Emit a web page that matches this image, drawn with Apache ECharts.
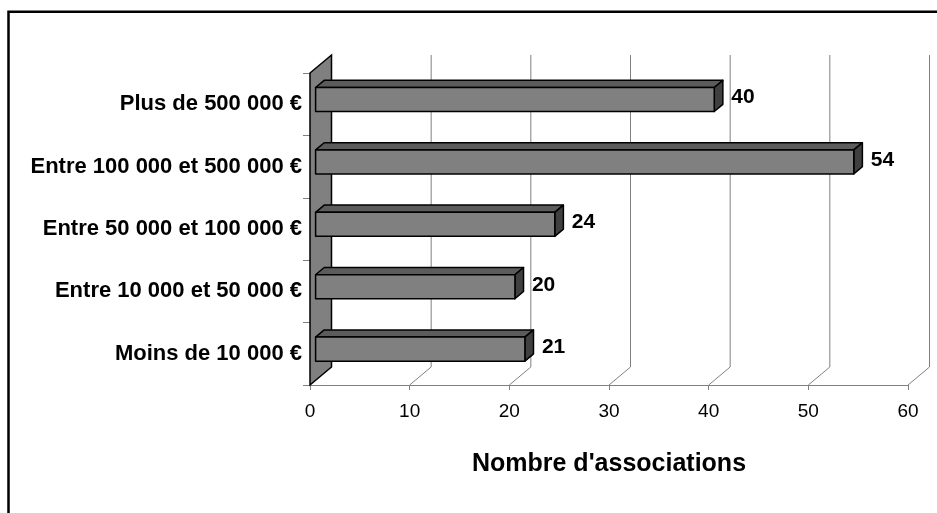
<!DOCTYPE html>
<html>
<head>
<meta charset="utf-8">
<script src="https://cdn.jsdelivr.net/npm/echarts@6/dist/echarts.min.js"></script>
<style>
  html, body { margin: 0; padding: 0; background: #fff; }
  #chart { width: 937px; height: 513px; }
</style>
</head>
<body>
<div id="chart"></div>
<script>
// données
const categories = [
  'Moins de 10 000 €',
  'Entre 10 000 et 50 000 €',
  'Entre 50 000 et 100 000 €',
  'Entre 100 000 et 500 000 €',
  'Plus de 500 000 €'
]
const values = [21, 20, 24, 54, 40]
const xTicks = [0, 10, 20, 30, 40, 50, 60]

// profondeur de l'effet 3D (en pixels)
const DX = 21.5
const DY = -18
const F0 = 0.26 // face avant des barres
const F1 = 0.66 // face arrière des barres

const chart = echarts.init(document.getElementById('chart'))

const option = {
  animation: false,
  graphic: [{
    type: 'rect',
    shape: { x: 8.5, y: 11.7, width: 2000, height: 2000 },
    style: { fill: 'none', stroke: '#000', lineWidth: 2.5 },
    silent: true
  }],
  grid: { left: 310, right: 29, top: 73, bottom: 128 },
  xAxis: {
    type: 'value',
    min: 0,
    max: 60,
    interval: 10,
    axisLine: { show: true, lineStyle: { color: '#808080', width: 1 } },
    axisTick: { show: true, length: 5, lineStyle: { color: '#808080' } },
    splitLine: { show: false },
    axisLabel: { color: '#000', fontSize: 19, fontFamily: 'Liberation Sans', margin: 17 },
    name: "Nombre d'associations",
    nameLocation: 'middle',
    nameGap: 67,
    nameTextStyle: { color: '#000', fontSize: 25, fontWeight: 'bold', fontFamily: 'Liberation Sans' }
  },
  yAxis: {
    type: 'category',
    data: categories,
    axisLine: { show: false },
    axisTick: { show: true, length: 7, lineStyle: { color: '#808080' } },
    splitLine: { show: false },
    axisLabel: {
      color: '#000', fontSize: 22, fontWeight: 'bold', fontFamily: 'Liberation Sans',
      margin: 8, padding: [0, 0, 7, 0]
    }
  },
  series: [
    {
      // sol + lignes de quadrillage du fond
      type: 'custom',
      silent: true,
      data: xTicks.map(t => [t, 0]),
      renderItem: function (params, api) {
        const cs = params.coordSys
        const x = api.coord([api.value(0), 0])[0]
        const yTop = cs.y
        const yBot = cs.y + cs.height
        return {
          type: 'group',
          children: [
            { type: 'line', shape: { x1: x, y1: yBot, x2: x + DX, y2: yBot + DY }, style: { stroke: '#808080', lineWidth: 1 } },
            { type: 'line', shape: { x1: x + DX, y1: yTop + DY, x2: x + DX, y2: yBot + DY }, style: { stroke: '#808080', lineWidth: 1 } }
          ]
        }
      }
    },
    {
      // paroi gauche
      type: 'custom',
      silent: true,
      data: [[0, 0]],
      renderItem: function (params, api) {
        const cs = params.coordSys
        const x = api.coord([0, 0])[0]
        const yTop = cs.y
        const yBot = cs.y + cs.height
        return {
          type: 'polygon',
          shape: { points: [[x, yTop], [x + DX, yTop + DY], [x + DX, yBot + DY], [x, yBot]] },
          style: { fill: '#808080', stroke: '#000', lineWidth: 1.5 }
        }
      }
    },
    {
      // barres 3D
      type: 'custom',
      data: values.map((v, i) => [v, i]),
      renderItem: function (params, api) {
        const v = api.value(0)
        const idx = api.value(1)
        const p0 = api.coord([0, idx])
        const p1 = api.coord([v, idx])
        const h = api.size([0, 1])[1] * 0.385
        const fx = DX * F0, fy = DY * F0
        const dx = DX * (F1 - F0), dy = DY * (F1 - F0)
        const x0 = p0[0] + fx
        const x1 = p1[0] + fx
        const yc = p0[1] + fy
        const yt = yc - h / 2
        const yb = yc + h / 2
        const edge = { stroke: '#000', lineWidth: 1.5, lineJoin: 'round' }
        return {
          type: 'group',
          children: [
            { type: 'polygon', shape: { points: [[x0, yt], [x1, yt], [x1 + dx, yt + dy], [x0 + dx, yt + dy]] }, style: Object.assign({ fill: '#5c5c5c' }, edge) },
            { type: 'polygon', shape: { points: [[x1, yt], [x1 + dx, yt + dy], [x1 + dx, yb + dy], [x1, yb]] }, style: Object.assign({ fill: '#404040' }, edge) },
            { type: 'rect', shape: { x: x0, y: yt, width: x1 - x0, height: h }, style: Object.assign({ fill: '#808080' }, edge) },
            {
              type: 'text',
              style: {
                text: String(v), x: x1 + 17, y: yc - 2,
                verticalAlign: 'middle', align: 'left',
                font: 'bold 21px "Liberation Sans"', fill: '#000'
              }
            }
          ]
        }
      }
    }
  ]
}

chart.setOption(option)
</script>
</body>
</html>
